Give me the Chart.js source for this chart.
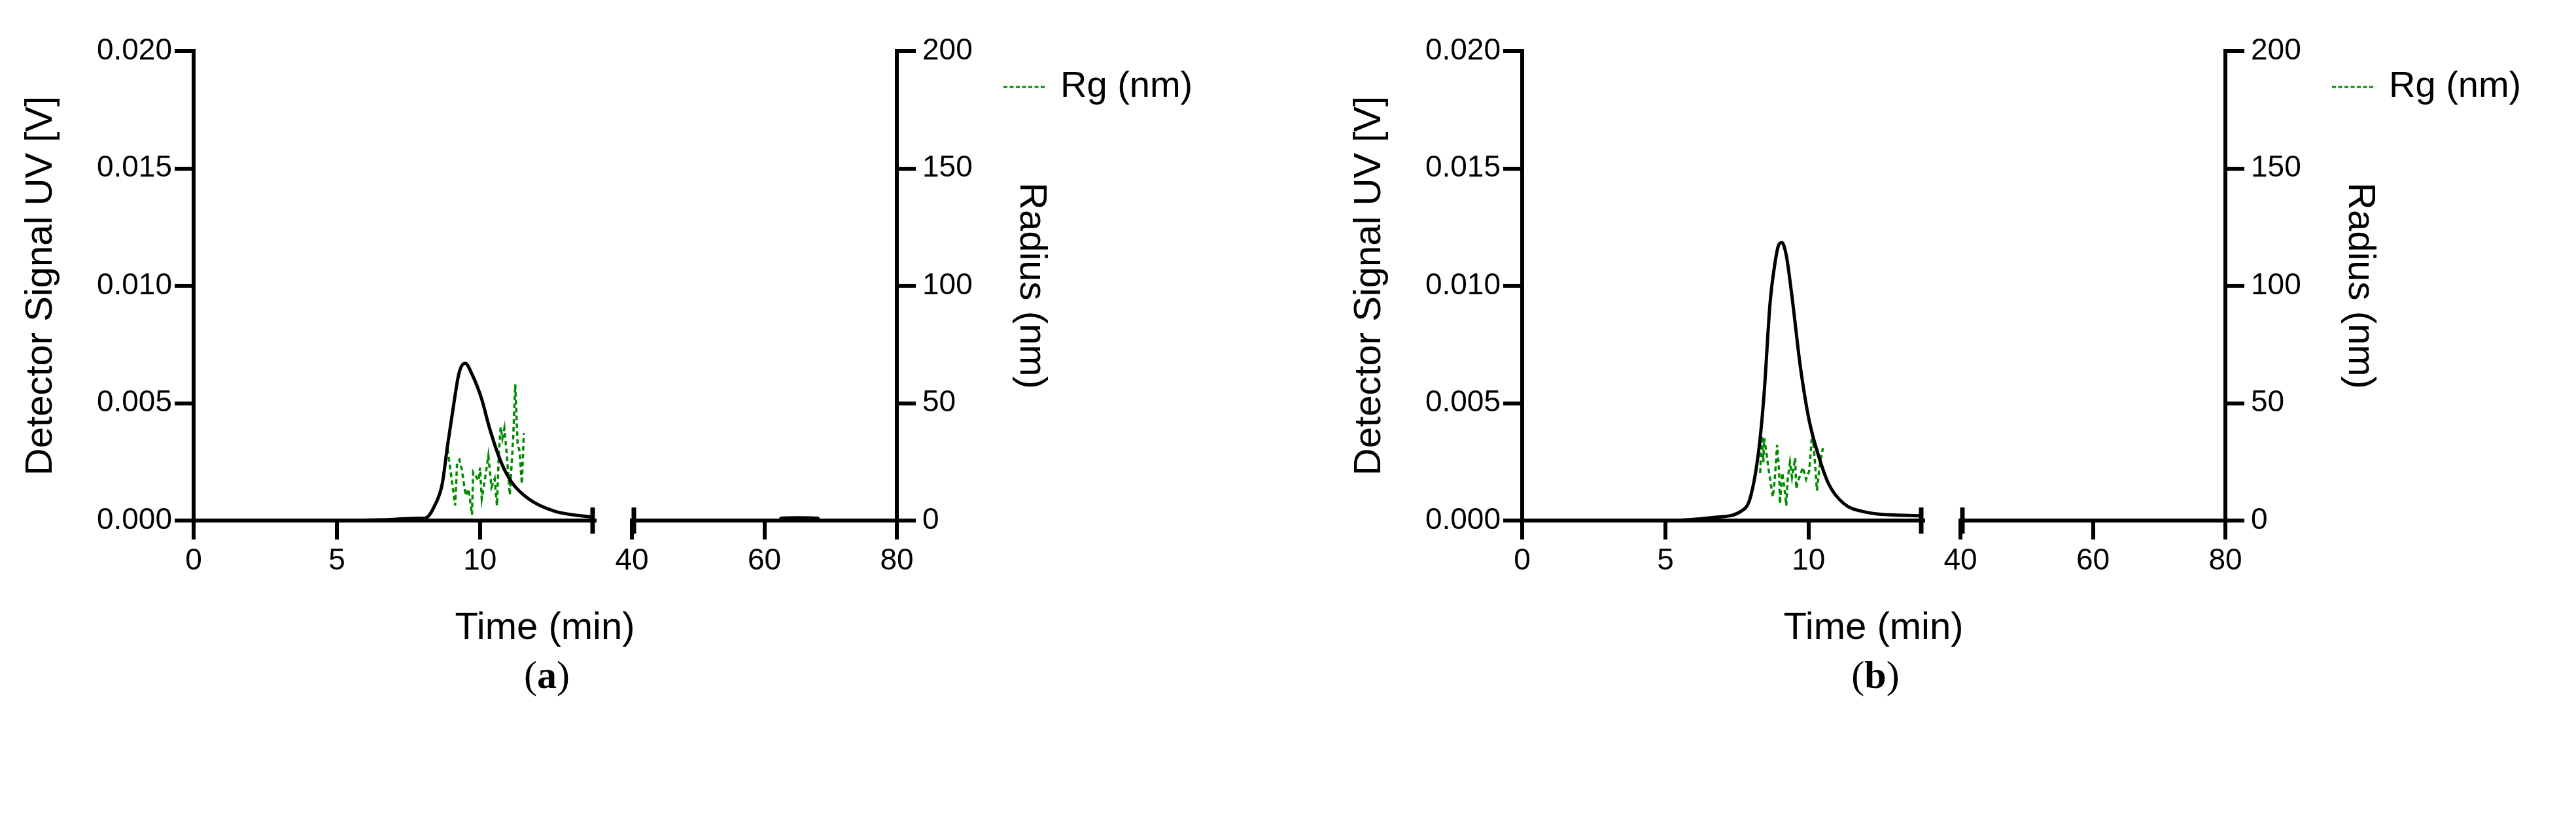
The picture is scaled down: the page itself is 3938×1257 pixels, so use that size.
<!DOCTYPE html>
<html><head><meta charset="utf-8">
<script src="https://cdn.jsdelivr.net/npm/chart.js@4"></script>
<style>
body{margin:0;width:3938px;height:1257px;background:#fff;position:relative;overflow:hidden;font-family:"Liberation Sans",Arial,sans-serif}
canvas{position:absolute;left:0;top:0}
.t{position:absolute;white-space:nowrap;color:#000}
</style></head><body>
<script>
// ---- data ----
const uvTimeA = [0, 5, 7, 7.84, 8.07, 8.45, 8.68, 8.86, 9.05, 9.27, 9.48, 9.73, 10.05, 10.34, 10.73, 11.1, 11.7, 12.6, 13.8, 14.2, 40, 62.4, 62.5, 65, 68.1, 68.2, 80];
const uvValA  = [0, 0, 0.00005, 0.0001, 0.0001, 0.00072, 0.00156, 0.00315, 0.0047, 0.0063, 0.0067, 0.0062, 0.0052, 0.0039, 0.0025, 0.00164, 0.00092, 0.0004, 0.00017, 0.00015, 0, 0, 0.0001, 0.00012, 0.0001, 0, 0];
const rgTimeA = [8.87, 9.13, 9.2, 9.28, 9.36, 9.5, 9.6, 9.72, 9.76, 9.95, 10.0, 10.06, 10.17, 10.29, 10.4, 10.51, 10.59, 10.66, 10.72, 10.78, 10.85, 10.93, 11.04, 11.16, 11.23, 11.31, 11.38, 11.46, 11.53];
const rgValA  = [30.4, 6.4, 24.8, 25.9, 22, 10.6, 13.4, 2.5, 20.6, 17, 22.6, 9.2, 17.5, 27.6, 14.2, 17.8, 6.4, 29.5, 39.8, 35, 39.3, 28.7, 10.9, 36, 58, 33, 29.5, 15.6, 37.3];
const uvTimeB = [0, 5, 6.74, 7.65, 7.97, 8.27, 8.45, 8.65, 8.8, 8.95, 9.07, 9.22, 9.41, 9.71, 10.02, 10.32, 10.7, 11.23, 11.99, 13.35, 13.9, 14.2, 40, 80];
const uvValB  = [0, 0, 0.00014, 0.0004, 0.001, 0.0031, 0.00546, 0.0092, 0.01075, 0.01172, 0.01184, 0.0113, 0.00964, 0.00657, 0.00426, 0.00287, 0.00156, 0.00072, 0.00036, 0.00022, 0.0002, 0.0002, 0, 0];
const rgTimeB = [8.31, 8.35, 8.38, 8.42, 8.45, 8.52, 8.6, 8.75, 8.82, 8.9, 8.97, 9.0, 9.08, 9.16, 9.22, 9.27, 9.35, 9.42, 9.53, 9.57, 9.65, 9.8, 9.91, 10.02, 10.13, 10.21, 10.29, 10.4, 10.5];
const rgValB  = [20.3, 31.5, 36, 24.8, 35, 29.5, 22, 10, 17.5, 32.3, 21, 7.2, 20.3, 13.6, 6.4, 17.5, 24.8, 18.4, 26.7, 13.6, 17.5, 22.6, 17.5, 21, 37.9, 26.7, 12.8, 24.8, 30.9];
const xTicksLeft = [0, 5, 10];
const xTicksRight = [40, 60, 80];
const yTicksLeft = [0, 0.005, 0.010, 0.015, 0.020];
const yTicksRight = [0, 50, 100, 150, 200];
const panels = [{ox:0, cap:'a', uvT:uvTimeA, uvV:uvValA, rgT:rgTimeA, rgV:rgValA},
                {ox:2031, cap:'b', uvT:uvTimeB, uvV:uvValB, rgT:rgTimeB, rgV:rgValB}];

const W=3938,H=1257, TOP=78, BOT=796, XH=140;
const FONT='"Liberation Sans", Arial, sans-serif';
const tickFont={family:FONT,size:46}, titleFont={family:FONT,size:58};
const pts=(t,v)=>t.map((x,i)=>({x,y:v[i]}));
const brk={id:'brk',afterDraw(c,a,o){const ctx=c.ctx,ca=c.chartArea;ctx.save();ctx.strokeStyle='#000';ctx.lineWidth=7;
  const x=o.side==='right'?ca.right-3:ca.left+3;ctx.beginPath();ctx.moveTo(x,BOT-20);ctx.lineTo(x,BOT+20);ctx.stroke();ctx.restore();}};
function axisCommon(){return {border:{display:true,color:'#000',width:6},grid:{display:true,drawOnChartArea:false,color:'#000',lineWidth:6,tickLength:29},ticks:{color:'#000',font:tickFont}};}

function mkChart(p,seg){
  const cv=document.createElement('canvas');cv.width=W;cv.height=H;document.body.appendChild(cv);
  const left=seg===0, xmin=left?0:40, xmax=left?14:80, xt=left?xTicksLeft:xTicksRight;
  const areaL=p.ox+(left?296:966), areaR=p.ox+(left?909:1371);
  const Y2W=240;
  const x=Object.assign(axisCommon(),{type:'linear',min:xmin,max:xmax,
     afterBuildTicks:s=>{s.ticks=xt.map(v=>({value:v}));},afterFit:s=>{s.height=XH;}});
  x.ticks=Object.assign(x.ticks,{padding:6,maxRotation:0,autoSkip:false});
  const y=Object.assign(axisCommon(),{type:'linear',display:left,position:'left',min:0,max:0.02,
     afterBuildTicks:s=>{s.ticks=yTicksLeft.map(v=>({value:v}));},afterFit:s=>{s.width=left?296:0;},
     title:{display:true,text:'Detector Signal UV [V]',color:'#000',font:titleFont,padding:{top:28,bottom:0}}});
  y.ticks=Object.assign(y.ticks,{padding:4,callback:v=>v.toFixed(3)});
  const y2=Object.assign(axisCommon(),{type:'linear',display:!left,position:'right',min:0,max:200,
     afterBuildTicks:s=>{s.ticks=yTicksRight.map(v=>({value:v}));},afterFit:s=>{s.width=left?0:Y2W;},
     title:{display:true,text:'Radius (nm)',color:'#000',font:titleFont,padding:{top:0,bottom:0}}});
  y2.ticks=Object.assign(y2.ticks,{padding:10});
  const padL=left?p.ox:areaL, padR=left?W-areaR:W-areaR-Y2W;
  new Chart(cv,{type:'line',
    data:{datasets:[
      {label:'UV',data:pts(p.uvT,p.uvV),yAxisID:'y',borderColor:'#000',borderWidth:5,pointRadius:0,tension:0.3,cubicInterpolationMode:'monotone'},
      {label:'Rg (nm)',data:pts(p.rgT,p.rgV),yAxisID:'y2',borderColor:'#008a00',borderWidth:3.5,borderDash:[7,5],pointRadius:0,tension:0}
    ]},
    options:{responsive:false,animation:false,devicePixelRatio:1,
      layout:{padding:{left:padL,right:padR,top:TOP,bottom:H-BOT-XH}},
      plugins:{legend:{display:false},tooltip:{enabled:false},brk:{side:left?'right':'left'}},
      scales:{x,y,y2}},
    plugins:[brk]});
}
panels.forEach(p=>{
  mkChart(p,0);mkChart(p,1);
  const add=(html,css)=>{const d=document.createElement('div');d.className='t';d.innerHTML=html;Object.assign(d.style,css);document.body.appendChild(d);};
  add('Time (min)',{left:(p.ox+833)+'px',top:'956px',transform:'translate(-50%,-50%)',fontSize:'58px'});
  add('(<b>'+p.cap+'</b>)',{left:(p.ox+836)+'px',top:'1032px',transform:'translate(-50%,-50%)',fontSize:'60px',fontFamily:'"Liberation Serif",serif'});
  add('<span style="display:inline-block;width:63px;border-top:3.5px dashed #008a00;vertical-align:middle;margin-right:24px"></span>Rg (nm)',
      {left:(p.ox+1534)+'px',top:'128px',transform:'translateY(-50%)',fontSize:'56px'});
});
</script>
</body></html>
